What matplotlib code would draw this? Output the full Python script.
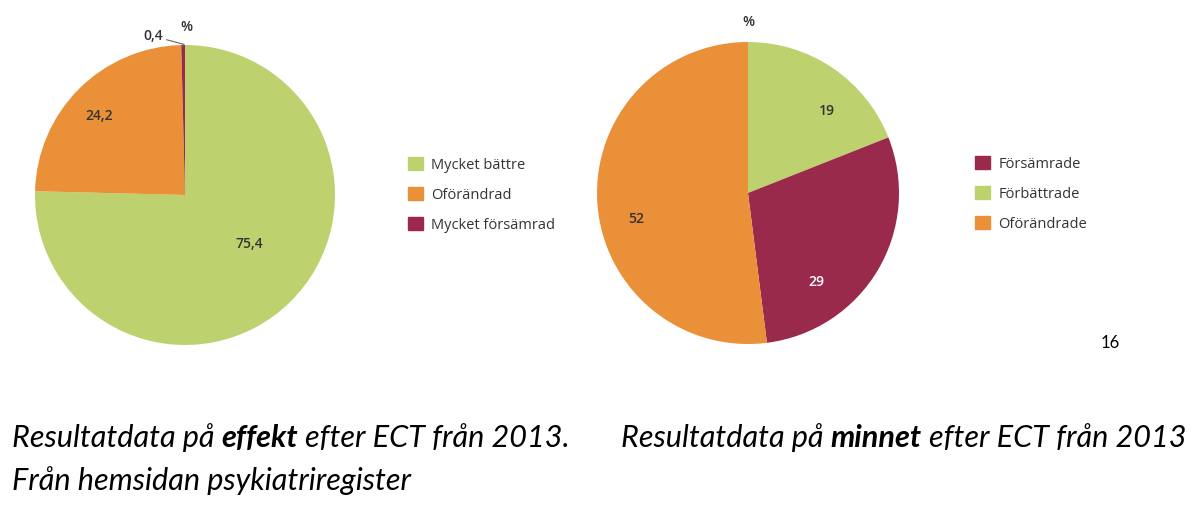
import matplotlib
matplotlib.use("Agg")
import matplotlib.pyplot as plt
from matplotlib.patches import Patch

# data
left_labels = ["Mycket bättre", "Oförändrad", "Mycket försämrad"]
left_values = [75.4, 24.2, 0.4]
left_colors = ["#bdd26f", "#ea9039", "#9a2a4c"]

right_labels = ["Förbättrade", "Försämrade", "Oförändrade"]
right_values = [19, 29, 52]
right_colors = ["#bdd26f", "#9a2a4c", "#ea9039"]
right_legend_order = [1, 0, 2]

W, H = 1200, 515
fig = plt.figure(figsize=(W / 100, H / 100), dpi=100)
fig.patch.set_facecolor("white")


def px_axes(cx, cy, r):
    # axes placed in pixel coords (y from top)
    return fig.add_axes([(cx - r) / W, (H - cy - r) / H, 2 * r / W, 2 * r / H])


def fmt(v):
    return ("%g" % v).replace(".", ",")


lab_font = dict(family="Open Sans", fontsize=10, fontweight="semibold",
                color="#333333")
leg_kw = dict(frameon=False, prop=dict(family="Open Sans", size=10.5),
              labelcolor="#333333", handlelength=1.0, handleheight=1.0,
              handletextpad=0.6, labelspacing=1.0, borderpad=0,
              borderaxespad=0)

# ---- left pie
ax1 = px_axes(185, 195, 150)
ax1.pie(left_values, colors=left_colors, startangle=90, counterclock=False,
        radius=1.0, wedgeprops=dict(linewidth=0))
ax1.set_xlim(-1, 1)
ax1.set_ylim(-1, 1)
ax1.set_aspect("equal")
ax1.axis("off")
ax1.text(0.43, -0.33, fmt(left_values[0]), ha="center", va="center", **lab_font)
ax1.text(-0.57, 0.53, fmt(left_values[1]), ha="center", va="center", **lab_font)
ax1.annotate(fmt(left_values[2]), xy=(-0.01, 0.99), xytext=(-0.15, 1.06),
             ha="right", va="center", annotation_clip=False,
             arrowprops=dict(arrowstyle="-", color="#666666", lw=0.8,
                             connectionstyle="angle,angleA=-15,angleB=80,rad=0",
                             shrinkA=1, shrinkB=0),
             **lab_font)
ax1.text(0.01, 1.12, "%", ha="center", va="center", **lab_font)

ax1.legend([Patch(color=c) for c in left_colors], left_labels,
           loc="upper left", bbox_to_anchor=(408 / W, 1 - 157 / H),
           bbox_transform=fig.transFigure, **leg_kw)

# ---- right pie
ax2 = px_axes(748, 193, 151)
ax2.pie(right_values, colors=right_colors, startangle=90, counterclock=False,
        radius=1.0, wedgeprops=dict(linewidth=0))
ax2.set_xlim(-1, 1)
ax2.set_ylim(-1, 1)
ax2.set_aspect("equal")
ax2.axis("off")
ax2.text(0.52, 0.54, fmt(right_values[0]), ha="center", va="center", **lab_font)
ax2.text(0.45, -0.59, fmt(right_values[1]), ha="center", va="center",
         family="Open Sans", fontsize=10, fontweight="semibold", color="white")
ax2.text(-0.74, -0.17, fmt(right_values[2]), ha="center", va="center", **lab_font)
ax2.text(0.0, 1.13, "%", ha="center", va="center", **lab_font)

ax2.legend([Patch(color=right_colors[i]) for i in right_legend_order],
           [right_labels[i] for i in right_legend_order],
           loc="upper left", bbox_to_anchor=(975 / W, 1 - 156 / H),
           bbox_transform=fig.transFigure, **leg_kw)

fig.text(1110 / W, 1 - 343 / H, "16", ha="center", va="center",
         family="Lato", fontsize=12, color="black")

# ---- captions with bold parts
renderer = fig.canvas.get_renderer()
cap_family = "Lato"


def width_of(s, weight, size):
    t = fig.text(0, 0, s, family=cap_family, style="italic",
                 fontweight=weight, fontsize=size)
    w = t.get_window_extent(renderer).width
    t.remove()
    return w


# size so that the first caption line is about 558 px wide
base = (width_of("Resultatdata på effekt efter ECT från 2013.", "normal", 10)
        + width_of("effekt", "bold", 10) - width_of("effekt", "normal", 10))
cap_size = 10 * 558 / base
space_w = width_of("x x", "normal", cap_size) - width_of("xx", "normal", cap_size)


def caption(x, y, pieces):
    # x, y in pixels (y = baseline from top)
    for i, (s, weight) in enumerate(pieces):
        t = fig.text(x / W, 1 - y / H, s, family=cap_family, style="italic",
                     fontweight=weight, fontsize=cap_size, color="black",
                     va="baseline", ha="left")
        x = x + t.get_window_extent(renderer).width
        if i < len(pieces) - 1:
            x += space_w


caption(12, 447, [("Resultatdata på", "normal"), ("effekt", "bold"),
                  ("efter ECT från 2013.", "normal")])
caption(12, 490, [("Från hemsidan psykiatriregister", "normal")])
caption(621, 447, [("Resultatdata på", "normal"), ("minnet", "bold"),
                   ("efter ECT från 2013", "normal")])

fig.savefig("out.png", dpi=100, facecolor="white")
